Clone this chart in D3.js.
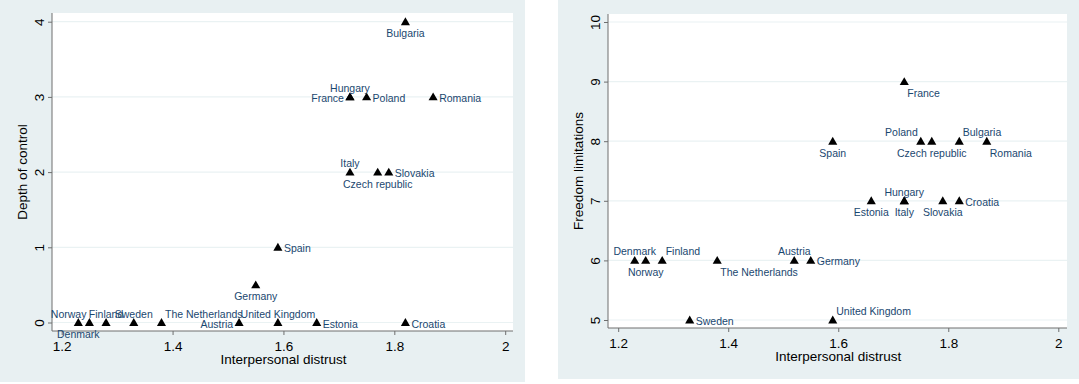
<!DOCTYPE html>
<html>
<head>
<meta charset="utf-8">
<script src="https://cdn.jsdelivr.net/npm/d3@7/dist/d3.min.js"></script>
<style>
  body { margin: 0; background: #fff; }
  svg { display: block; font-family: "Liberation Sans", Arial, sans-serif; }
</style>
</head>
<body>
<svg id="chart" width="1079" height="384"></svg>
<script>
// data
const countries = ["Denmark", "Norway", "Finland", "Sweden", "The Netherlands", "Austria", "Germany",
  "United Kingdom", "Spain", "Estonia", "Italy", "France", "Hungary", "Poland", "Czech republic",
  "Slovakia", "Bulgaria", "Croatia", "Romania"];
const distrust = [1.23, 1.25, 1.28, 1.33, 1.38, 1.52, 1.55, 1.59, 1.59, 1.66, 1.72, 1.72, 1.72, 1.75, 1.77, 1.79, 1.82, 1.82, 1.87];
const depthOfControl = [0, 0, 0, 0, 0, 0, 0.5, 0, 1, 0, 2, 3, 3, 3, 2, 2, 4, 0, 3];
const freedomLimits = [6, 6, 6, 5, 6, 6, 6, 5, 8, 7, 7, 9, 7, 8, 8, 7, 8, 7, 8];

const xTicks = [1.2, 1.4, 1.6, 1.8, 2];
const depthTicks = [0, 1, 2, 3, 4];
const freedomTicks = [5, 6, 7, 8, 9, 10];

// marker label positions (clock, like stata mlabvpos)
const depthLabelPos = [6, 11, 12, 12, 1, 9, 6, 12, 3, 3, 12, 9, 12, 3, 6, 3, 6, 3, 3];
const freedomLabelPos = [12, 6, 1, 3, 5, 12, 3, 1, 6, 6, 6, 5, 12, 11, 6, 6, 1, 3, 5];

const svg = d3.select("#chart");
const labelColor = "#1a476f";
const gridColor = "#eaf2f3";

function drawPanel(opt) {
  // outer grey region
  svg.append("rect")
    .attr("x", opt.region[0]).attr("y", 0)
    .attr("width", opt.region[1] - opt.region[0]).attr("height", opt.region[2])
    .attr("fill", "#e8f0f2");

  // white plot region
  svg.append("rect")
    .attr("x", opt.plot.left).attr("y", opt.plot.top)
    .attr("width", opt.plot.right - opt.plot.left).attr("height", opt.plot.bottom - opt.plot.top)
    .attr("fill", "#fff");

  const x = d3.scaleLinear().domain([1.2, 2]).range(opt.xRange);
  const y = d3.scaleLinear().domain(opt.yDomain).range(opt.yRange);

  //grid lines
  svg.append("g")
    .selectAll("line")
    .data(opt.yTicks)
    .join("line")
      .attr("x1", opt.plot.left).attr("x2", opt.plot.right)
      .attr("y1", d => y(d)).attr("y2", d => y(d))
      .attr("stroke", gridColor).attr("stroke-width", 1.2);

  //x axis
  const xAxis = svg.append("g")
    .attr("transform", `translate(0,${opt.plot.bottom})`)
    .call(d3.axisBottom(x).tickValues(xTicks).tickFormat(d3.format("")).tickSize(4).tickSizeOuter(0));
  xAxis.select(".domain")
    .attr("d", `M${opt.plot.left},0H${opt.plot.right}`)
    .attr("stroke", "#6e6e6e");
  xAxis.selectAll(".tick line").attr("stroke", "#6e6e6e");
  xAxis.selectAll(".tick text")
    .attr("y", 10)
    .attr("dy", "0.71em")
    .style("font-size", "13.5px")
    .attr("fill", "#000");

  //y axis
  const yAxis = svg.append("g")
    .attr("transform", `translate(${opt.plot.left},0)`)
    .call(d3.axisLeft(y).tickValues(opt.yTicks).tickFormat(d3.format("")).tickSize(4).tickSizeOuter(0));
  yAxis.select(".domain")
    .attr("d", `M0,${opt.plot.top}V${opt.plot.bottom}`)
    .attr("stroke", "#6e6e6e");
  yAxis.selectAll(".tick line").attr("stroke", "#6e6e6e");
  yAxis.selectAll(".tick text")
    .attr("x", null).attr("dy", null)
    .attr("transform", "translate(-8,0) rotate(-90)")
    .attr("text-anchor", "middle")
    .style("font-size", "13.5px")
    .attr("fill", "#000");

  //axis titles
  svg.append("text")
    .attr("x", (opt.xRange[0] + opt.xRange[1]) / 2)
    .attr("y", opt.plot.bottom + 33)
    .attr("text-anchor", "middle")
    .style("font-size", "13.5px")
    .text("Interpersonal distrust");

  svg.append("text")
    .attr("transform", `translate(${opt.plot.left - 25},${(opt.plot.top + opt.plot.bottom) / 2}) rotate(-90)`)
    .attr("text-anchor", "middle")
    .style("font-size", "13.5px")
    .text(opt.yTitle);

  const points = countries.map((c, i) => ({ name: c, x: distrust[i], y: opt.values[i], pos: opt.labelPos[i] }));

  //triangle markers
  const tri = d3.symbol().type(d3.symbolTriangle).size(36);
  svg.append("g")
    .selectAll("path")
    .data(points)
    .join("path")
      .attr("d", tri)
      .attr("transform", d => `translate(${x(d.x)},${y(d.y) + 0.8})`)
      .attr("fill", "#000");

  //country labels
  const place = {
    12: { dx: 0, dy: -5, anchor: "middle" },
    1: { dx: 3.5, dy: -5, anchor: "start" },
    11: { dx: -3, dy: -5, anchor: "end" },
    3: { dx: 6, dy: 5, anchor: "start" },
    9: { dx: -6, dy: 5, anchor: "end" },
    6: { dx: 0, dy: 15.5, anchor: "middle" },
    5: { dx: 3, dy: 15.5, anchor: "start" }
  };
  svg.append("g")
    .selectAll("text")
    .data(points)
    .join("text")
      .attr("x", d => x(d.x) + place[d.pos].dx)
      .attr("y", d => y(d.y) + place[d.pos].dy)
      .attr("text-anchor", d => place[d.pos].anchor)
      .style("font-size", "10.5px")
      .attr("fill", labelColor)
      .text(d => d.name);
}

drawPanel({
  region: [0, 525, 382],
  plot: { left: 52, right: 513, top: 13, bottom: 331 },
  xRange: [61.7, 505.2],
  yDomain: [0, 4],
  yRange: [322.5, 21.7],
  yTicks: depthTicks,
  yTitle: "Depth of control",
  values: depthOfControl,
  labelPos: depthLabelPos
});

drawPanel({
  region: [558, 1079, 379],
  plot: { left: 608, right: 1067, top: 14, bottom: 328 },
  xRange: [618.2, 1058.3],
  yDomain: [5, 10],
  yRange: [320, 22],
  yTicks: freedomTicks,
  yTitle: "Freedom limitations",
  values: freedomLimits,
  labelPos: freedomLabelPos
});
</script>
</body>
</html>
